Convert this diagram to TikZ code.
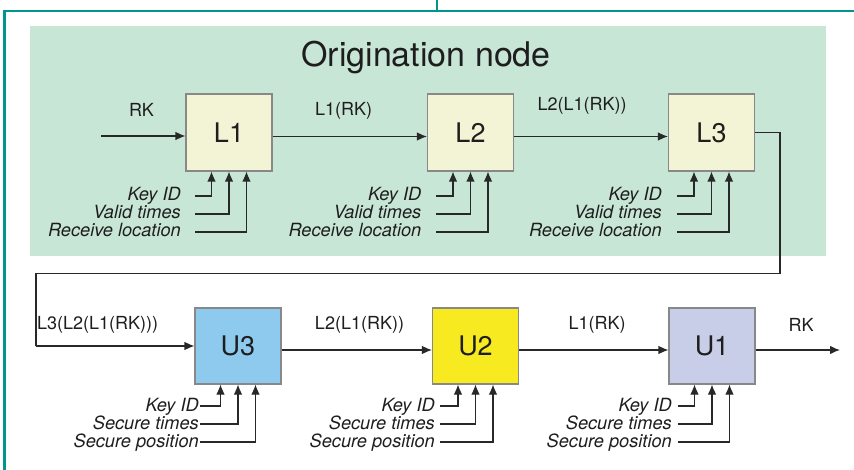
\documentclass[tikz,border=0pt]{standalone}
\usepackage{fontspec}
\setmainfont{TeX Gyre Heros}
\usetikzlibrary{arrows.meta,calc}
\definecolor{frameteal}{RGB}{0,150,140}
\definecolor{panelgreen}{RGB}{200,230,214}
\definecolor{lcream}{RGB}{243,243,214}
\definecolor{ublue}{RGB}{142,202,238}
\definecolor{uyellow}{RGB}{247,234,32}
\definecolor{ulav}{RGB}{201,206,232}
\definecolor{boxgray}{RGB}{136,136,136}
\definecolor{wirec}{RGB}{40,40,40}
\definecolor{txt}{RGB}{30,30,30}
\begin{document}
\begin{tikzpicture}[x=1pt,y=-1pt,
  blk/.style={draw=boxgray, line width=1.1pt, minimum width=86pt, minimum height=77pt,
    inner sep=0pt, font=\fontsize{27}{27}\selectfont, text=txt},
  wire/.style={draw=wirec, line width=1.1pt},
  arr/.style={wire, -{Latex[length=10pt,width=8.5pt]}},
  lab/.style={font=\fontsize{18}{18}\selectfont, inner sep=0pt, text=txt, anchor=base},
  inlab/.style={font=\fontsize{18.2}{18.2}\selectfont\itshape, inner sep=0pt, anchor=base east, text=txt}
]
\useasboundingbox (0,0) rectangle (854,470);
\fill[white] (0,0) rectangle (854,470);

% frame
\draw[frameteal, line width=2.6pt] (854,11) -- (4.3,11) -- (4.3,470);
\draw[frameteal, line width=1.2pt] (437,0) -- (437,11);

% origination panel
\fill[panelgreen] (30,26) rectangle (826,256);
\node[font=\fontsize{34}{34}\selectfont, text=txt, inner sep=0pt, anchor=base] (title) at (426,67) {Origination node};

% boxes
\node[blk, fill=lcream] (L1) at (229,132.5) {L1};
\node[blk, fill=lcream] (L2) at (470.5,132.5) {L2};
\node[blk, fill=lcream] (L3) at (711.5,132.5) {L3};
\node[blk, fill=ublue, minimum height=76pt] (U3) at (238,346) {U3};
\node[blk, fill=uyellow, minimum height=76pt] (U2) at (475.5,346) {U2};
\node[blk, fill=ulav, minimum height=76pt] (U1) at (712,346) {U1};

% row 1 connectors
\coordinate (rkin) at (101,136);
\draw[arr] (rkin) -- (rkin -| L1.west);
\draw[arr] ([yshift=-4pt]L1.east) -- ([yshift=-4pt]L2.west);
\draw[arr] ([yshift=-4pt]L2.east) -- ([yshift=-4pt]L3.west);
\node[lab] (rk1) at (141.5,117) {RK};
\node[lab] (l1rk1) at (343.5,116) {L1(RK)};
\node[lab] (l2l1rk1) at (582,111) {L2(L1(RK))};

% loop from L3 to U3
\coordinate (c1) at (780,132.5);
\coordinate (c2) at (780,273.5);
\coordinate (c3) at (36,273.5);
\coordinate (c4) at (36,346);
\draw[wire] (L3.east) -- (c1) -- (c2) -- (c3) -- (c4);
\draw[arr] (c4) -- (U3.west);
\node[lab, anchor=base west] (l3lab) at (37,330) {L3(L2(L1(RK)))};

% row 2 connectors
\draw[arr] ([yshift=-4pt]U3.east) -- ([yshift=-4pt]U2.west);
\draw[arr] ([yshift=-4pt]U2.east) -- ([yshift=-4pt]U1.west);
\coordinate (rkout) at (840,350);
\draw[arr] ([yshift=-4pt]U1.east) -- (rkout);
\node[lab] (l2l1rk2) at (359.5,330) {L2(L1(RK))};
\node[lab] (l1rk2) at (597,330) {L1(RK)};
\node[lab] (rk2) at (801,331) {RK};

% row 1 inputs
\foreach \n/\cx/\lx/\tx in {L1/229/195/181, L2/470.5/436/421.5, L3/711.5/677/662}{
  \foreach \dx/\dy/\t [count=\i] in {-17.5/196/Key ID, 0/214/Valid times, 17.5/232/Receive location}{
    \coordinate (\n-s\i) at (\lx,\dy);
    \coordinate (\n-c\i) at (\cx+\dx,\dy);
    \draw[arr] (\n-s\i) -- (\n-c\i) -- (\n-c\i |- \n.south);
    \node[inlab] (\n-t\i) at (\tx,\dy+5) {\t};
  }
}

% row 2 inputs
\foreach \n/\cx/\lx/\tx in {U3/238/200/199, U2/475.5/440/435, U1/712/678/672}{
  \foreach \dx/\dy/\t [count=\i] in {-17.5/406/Key ID, 0/424/Secure times, 17.5/442/Secure position}{
    \coordinate (\n-s\i) at (\lx,\dy);
    \coordinate (\n-c\i) at (\cx+\dx,\dy);
    \draw[arr] (\n-s\i) -- (\n-c\i) -- (\n-c\i |- \n.south);
    \node[inlab] (\n-t\i) at (\tx,\dy+5) {\t};
  }
}
\end{tikzpicture}
\end{document}
